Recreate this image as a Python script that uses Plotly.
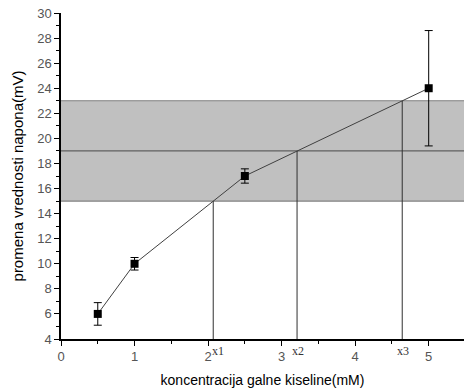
import plotly.graph_objects as go

# data
conc = [0.5, 1.0, 2.5, 5.0]
voltage = [6.0, 10.0, 17.0, 24.0]
voltage_err = [0.9, 0.5, 0.57, 4.6]
band_low = 15
band_mid = 19
band_high = 23
cross_x = [2.07, 3.21, 4.64]
cross_y = [15, 19, 23]
cross_labels = ["x1", "x2", "x3"]
x_ticks = [0, 1, 2, 3, 4, 5]
y_ticks = [4, 6, 8, 10, 12, 14, 16, 18, 20, 22, 24, 26, 28, 30]

XMAX = 5.48
fig = go.Figure()

# shaded band
fig.add_shape(type="rect", xref="x", yref="y", x0=0, x1=XMAX, y0=band_low, y1=band_high,
              fillcolor="#c0c0c0", line=dict(width=0), layer="below")
for yv, col in [(band_low, "#808080"), (band_high, "#808080"), (band_mid, "#606060")]:
    fig.add_shape(type="line", xref="x", yref="y", x0=0, x1=XMAX, y0=yv, y1=yv,
                  line=dict(color=col, width=1.2), layer="below")

# vertical drop lines
for xv, yv in zip(cross_x, cross_y):
    fig.add_shape(type="line", xref="x", yref="y", x0=xv, x1=xv, y0=4, y1=yv,
                  line=dict(color="#303030", width=1), layer="below")

fig.add_trace(go.Scatter(
    x=conc, y=voltage, mode="lines+markers",
    line=dict(color="#404040", width=1),
    marker=dict(symbol="square", size=8, color="black"),
    error_y=dict(type="data", array=voltage_err, visible=True, color="black",
                 thickness=1, width=4),
    showlegend=False, cliponaxis=False,
))

for xv, lab, xs in zip(cross_x, cross_labels, [5, 1, 1]):
    fig.add_annotation(x=xv, y=4, xref="x", yref="y", text=lab, showarrow=False,
                       xanchor="center", yanchor="top", xshift=xs, yshift=-3,
                       font=dict(family="Liberation Serif", size=12, color="#333"))

axis_common = dict(showgrid=False, zeroline=False, showline=True, linecolor="black",
                   linewidth=1.5, ticks="outside", tickcolor="black", ticklen=5,
                   tickwidth=1.2, automargin=False,
                   tickfont=dict(family="Liberation Sans", size=13, color="#555"))
fig.update_xaxes(range=[0, XMAX], tickvals=x_ticks, **axis_common,
                 minor=dict(dtick=0.5, tick0=0, ticks="outside", ticklen=3, tickcolor="black"),
                 title=dict(text="koncentracija galne kiseline(mM)", standoff=12,
                            font=dict(family="Liberation Sans", size=14, color="black")))
fig.update_yaxes(range=[4, 30], tickvals=y_ticks, **axis_common,
                 minor=dict(dtick=1, tick0=0, ticks="outside", ticklen=3, tickcolor="black"),
                 title=dict(text="promena vrednosti napona(mV)", standoff=10,
                            font=dict(family="Liberation Sans", size=15, color="black")))

fig.update_layout(width=464, height=391, margin=dict(l=61, r=0, t=13, b=52),
                  plot_bgcolor="white", paper_bgcolor="white")
fig.write_html("out.html", config={"displayModeBar": False},
               post_script="document.body.style.margin='0';")
